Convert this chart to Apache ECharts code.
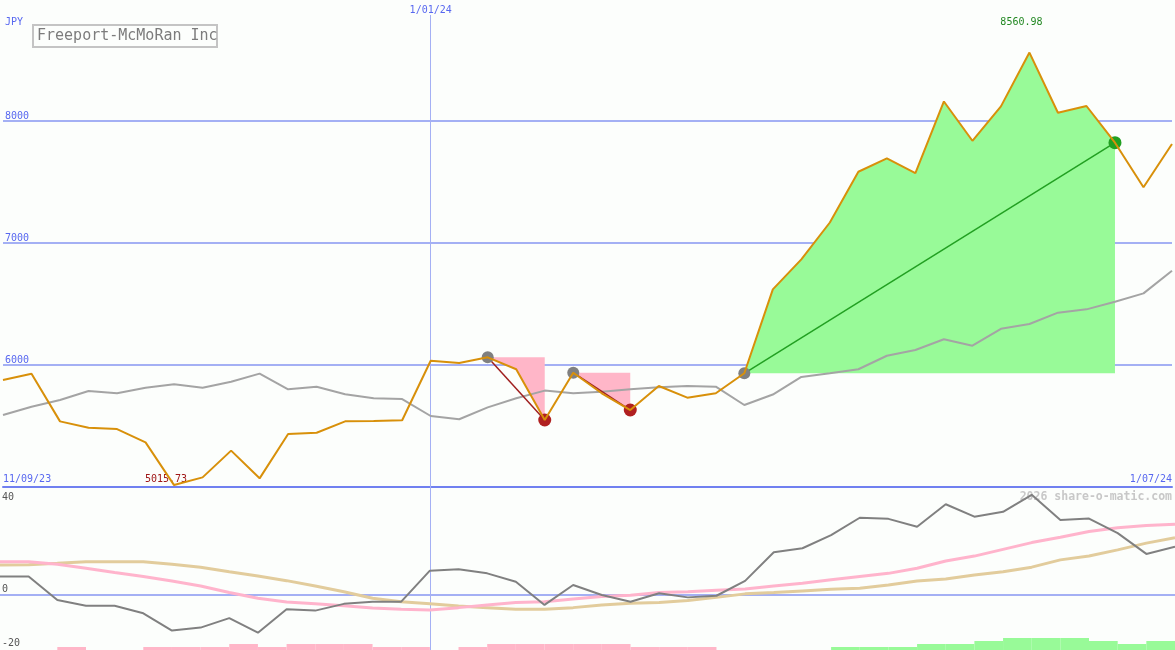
<!DOCTYPE html>
<html><head><meta charset="utf-8">
<script src="https://cdn.jsdelivr.net/npm/echarts@6/dist/echarts.min.js"></script>
<style>html,body{margin:0;padding:0;background:#fcfefc;}#c{width:1175px;height:650px;}</style>
</head><body><div id="c"></div>
<script>
// ---- data ----
const dates = ["18/09/23","25/09/23","2/10/23","9/10/23","16/10/23","23/10/23","30/10/23","6/11/23","13/11/23","20/11/23","27/11/23","4/12/23","11/12/23","18/12/23","25/12/23","1/01/24","8/01/24","15/01/24","22/01/24","29/01/24","5/02/24","12/02/24","19/02/24","26/02/24","4/03/24","11/03/24","18/03/24","25/03/24","1/04/24","8/04/24","15/04/24","22/04/24","29/04/24","6/05/24","13/05/24","20/05/24","27/05/24","3/06/24","10/06/24","17/06/24","24/06/24","1/07/24"];
const xTickLabels = ["11/09/23", "1/01/24", "1/07/24"];
const xTickIndex = [0, 15, 41];
const priceTicks = [6000, 7000, 8000];
const lowerTicks = [40, 0, -20];
const price = [5877,5929,5538,5486,5475,5366,5015.73,5079,5298,5071,5434,5445,5538,5540,5547,6035,
  6016,6063,5965,5549,5937,5768,5631,5828,5732,5768,5932,6620,6866,7168,7584,7694,7572,8160,7838,8120,8560.98,8068,8123,7822,7457,7811];
const avg = [5590,5658,5713,5787,5768,5814,5842,5814,5863,5929,5801,5822,5760,5727,5721,5582,
  5555,5653,5727,5790,5768,5781,5801,5817,5828,5822,5672,5758,5902,5932,5965,6076,6123,6211,6158,6297,6336,6429,6456,6519,6587,6773];
const momentum = [6.8,6.8,-1.9,-4.0,-4.0,-6.8,-13.2,-12.1,-8.6,-14.0,-5.3,-5.8,-3.3,-2.5,-2.5,9.0,
  9.5,8.0,4.9,-3.7,3.7,0.0,-2.5,0.6,-0.9,-0.3,5.2,15.8,17.3,22.2,28.6,28.2,25.3,33.6,29.0,30.8,37.1,27.8,28.3,22.9,15.2,17.9];
const pinkLine = [12.3,12.3,11.4,9.9,8.3,6.8,5.2,3.3,0.9,-1.2,-2.6,-3.3,-4.0,-4.8,-5.3,-5.6,
  -4.7,-3.7,-2.8,-2.5,-1.5,-0.6,-0.1,0.9,1.2,1.7,2.2,3.3,4.3,5.6,6.8,8.0,9.9,12.6,14.4,16.9,19.4,21.4,23.5,24.9,25.7,26.2];
const tanLine = [11.1,11.2,11.7,12.3,12.3,12.3,11.4,10.3,8.6,7.0,5.3,3.3,1.2,-1.2,-2.5,-3.3,
  -4.1,-4.7,-5.3,-5.3,-4.7,-3.7,-3.1,-2.8,-2.1,-0.9,0.4,0.9,1.5,2.1,2.5,3.7,5.2,5.9,7.4,8.6,10.3,13.0,14.4,16.7,19.2,21.2];
// histogram: one value per interval (point i to point i+1)
const hist = [0,0,-1,0,0,-1,-1,-1,-2,-1,-2,-2,-2,-1,-1,0,-1,-2,-2,-2,-2,-2,-1,-1,-1,0,0,0,0,1,1,1,2,2,3,4,4,4,3,2,3];
// trades: [entry index, exit index]
const trades = [[17,19],[20,22],[26,39]];

// ---- style ----
const MONO = 'DejaVu Sans Mono';
const BLUE_TXT = '#5868f0';
const GRID_BLUE = '#a4b0f4';
const BORDER_BLUE = '#7080f0';
const CLEAR = 'rgba(0,0,0,0)';

const chart = echarts.init(document.getElementById('c'), null, {renderer: 'canvas'});

const option = {
  animation: false,
  backgroundColor: '#fcfefc',
  grid: [
    {left: 0, right: 0, top: 15, height: 472},
    {left: 0, right: 0, top: 487, height: 163}
  ],
  xAxis: [
    {type: 'category', data: dates, boundaryGap: false, gridIndex: 0,
     axisLine: {show: true, onZero: false, lineStyle: {color: BORDER_BLUE, width: 2}},
     axisTick: {show: false}, splitLine: {show: false},
     axisLabel: {inside: true, interval: 0, margin: 3, color: BLUE_TXT, fontFamily: MONO, fontSize: 10,
       alignMinLabel: 'left', alignMaxLabel: 'right',
       formatter: (v, i) => (i === xTickIndex[0] ? xTickLabels[0] : (i === xTickIndex[2] ? xTickLabels[2] : ''))}},
    {type: 'category', data: dates, boundaryGap: false, gridIndex: 1, show: false}
  ],
  yAxis: [
    {type: 'value', gridIndex: 0, min: 5000, max: 5000 + 472 / 0.122, show: false, splitLine: {show: false}},
    {type: 'value', gridIndex: 1, min: -20.4, max: 40, show: false, splitLine: {show: false}},
    {type: 'value', gridIndex: 1, min: 0, max: 163 / 3, show: false, splitLine: {show: false}}
  ],
  graphic: [
    {type: 'text', left: 5, top: 17, style: {text: 'JPY', font: '10px ' + MONO, fill: BLUE_TXT}},
    {type: 'group', left: 32, top: 24, children: [
      {type: 'rect', shape: {x: 1, y: 1, width: 184, height: 22}, style: {stroke: '#c4c4c4', lineWidth: 2, fill: '#fcfefc'}},
      {type: 'text', x: 5, y: 12, style: {text: 'Freeport-McMoRan Inc', font: '15px ' + MONO, fill: '#7c7c7c', verticalAlign: 'middle'}}
    ]},
    {type: 'text', right: 3, top: 491, z: -1, style: {text: '2026 share-o-matic.com', font: 'bold 11.5px ' + MONO, fill: '#c8c8c8'}}
  ],
  series: [
    // host for top gridlines
    {type: 'line', xAxisIndex: 0, yAxisIndex: 0, data: price, symbol: 'none', silent: true,
     lineStyle: {opacity: 0}, z: 1,
     markLine: {silent: true, symbol: 'none', z: 1, animation: false,
       data: priceTicks.map(v => ({yAxis: v,
         lineStyle: {color: GRID_BLUE, width: 2, type: 'solid'},
         label: {show: true, position: 'insideStartTop', distance: [2, 0], formatter: String(v), color: BLUE_TXT, fontFamily: MONO, fontSize: 10}}))
         .concat([{xAxis: dates[xTickIndex[1]], lineStyle: {color: GRID_BLUE, width: 1, type: 'solid'},
           label: {show: true, position: 'end', distance: 0, formatter: xTickLabels[1], color: BLUE_TXT, fontFamily: MONO, fontSize: 10}}])
     }},
    // host for lower gridlines
    {type: 'line', xAxisIndex: 1, yAxisIndex: 1, data: momentum, symbol: 'none', silent: true,
     lineStyle: {opacity: 0}, z: 1,
     markLine: {silent: true, symbol: 'none', z: 1, animation: false,
       data: [
         {yAxis: lowerTicks[1], lineStyle: {color: GRID_BLUE, width: 2, type: 'solid'},
          label: {show: true, position: 'insideStartTop', distance: [2, 1], formatter: String(lowerTicks[1]), color: '#555', fontFamily: MONO, fontSize: 10}},
         {yAxis: lowerTicks[2], lineStyle: {color: CLEAR, width: 1, type: 'solid'},
          label: {show: true, position: 'insideStartTop', distance: [2, 1], formatter: String(lowerTicks[2]), color: '#555', fontFamily: MONO, fontSize: 10}},
         {yAxis: lowerTicks[0], lineStyle: {color: CLEAR, width: 1, type: 'solid'},
          label: {show: true, position: 'insideStartBottom', distance: [2, 5], formatter: String(lowerTicks[0]), color: '#555', fontFamily: MONO, fontSize: 10}},
         {xAxis: dates[xTickIndex[1]], lineStyle: {color: GRID_BLUE, width: 1, type: 'solid'}, label: {show: false}}
       ]}},
    // trade fills
    {type: 'custom', xAxisIndex: 0, yAxisIndex: 0, z: 2, silent: true,
     data: trades.map(t => [t[0], price[t[0]], t[1], price[t[1]]]),
     encode: {x: [0, 2], y: [1, 3]},
     renderItem: (params, api) => {
       const t = trades[params.dataIndex];
       const lvl = price[t[0]];
       const pts = [api.coord([t[0], lvl]), api.coord([t[1], lvl])];
       for (let i = t[1]; i >= t[0]; i--) pts.push(api.coord([i, price[i]]));
       return {type: 'polygon', shape: {points: pts},
         style: {fill: price[t[1]] > lvl ? '#98fa98' : '#ffb6c8'}};
     }},
    // average line
    {type: 'line', xAxisIndex: 0, yAxisIndex: 0, data: avg, symbol: 'none', z: 3,
     lineStyle: {color: '#a4a4a4', width: 2}},
    // trade lines and markers
    {type: 'custom', xAxisIndex: 0, yAxisIndex: 0, z: 4, silent: true,
     data: trades.map(t => [t[0], price[t[0]], t[1], price[t[1]]]),
     encode: {x: [0, 2], y: [1, 3]},
     renderItem: (params, api) => {
       const t = trades[params.dataIndex];
       const a = api.coord([t[0], price[t[0]]]);
       const b = api.coord([t[1], price[t[1]]]);
       const win = price[t[1]] > price[t[0]];
       return {type: 'group', children: [
         {type: 'line', shape: {x1: a[0], y1: a[1], x2: b[0], y2: b[1]},
          style: {stroke: win ? '#22a022' : '#a02020', lineWidth: 1.5}},
         {type: 'circle', shape: {cx: a[0], cy: a[1], r: 6}, style: {fill: '#808080'}},
         {type: 'circle', shape: {cx: b[0], cy: b[1], r: 6.5}, style: {fill: win ? '#22a022' : '#b02020'}}
       ]};
     }},
    // price line
    {type: 'line', xAxisIndex: 0, yAxisIndex: 0, data: price, symbol: 'none', z: 5,
     lineStyle: {color: '#d8900a', width: 2},
     markPoint: {symbol: 'circle', symbolSize: 0, silent: true, animation: false,
       data: [
         {type: 'min', label: {show: true, formatter: '{c}', offset: [-8, -6], color: '#a01818', fontFamily: MONO, fontSize: 10}},
         {type: 'max', label: {show: true, formatter: '{c}', offset: [-8, -30], color: '#228822', fontFamily: MONO, fontSize: 10}}
       ]}},
    // lower panel histogram
    {type: 'custom', xAxisIndex: 1, yAxisIndex: 2, z: 2, silent: true,
     data: hist.map((v, i) => [i, Math.abs(v), v]),
     encode: {x: 0, y: 1},
     renderItem: (params, api) => {
       const i = api.value(0), h = api.value(1), s = api.value(2);
       if (!h) return null;
       const p0 = api.coord([i, 0]);
       const p1 = api.coord([i + 1, h]);
       return {type: 'rect', shape: {x: p0[0], y: p1[1], width: p1[0] - p0[0], height: p0[1] - p1[1]},
         style: {fill: s > 0 ? '#98fa98' : '#ffb6c8'}};
     }},
    {type: 'line', xAxisIndex: 1, yAxisIndex: 1, data: tanLine, symbol: 'none', z: 3,
     lineStyle: {color: '#e2cc9c', width: 3}},
    {type: 'line', xAxisIndex: 1, yAxisIndex: 1, data: pinkLine, symbol: 'none', z: 3,
     lineStyle: {color: '#ffb4cc', width: 3}},
    {type: 'line', xAxisIndex: 1, yAxisIndex: 1, data: momentum, symbol: 'none', z: 4,
     lineStyle: {color: '#808080', width: 2}}
  ]
};
chart.setOption(option);
</script></body></html>
